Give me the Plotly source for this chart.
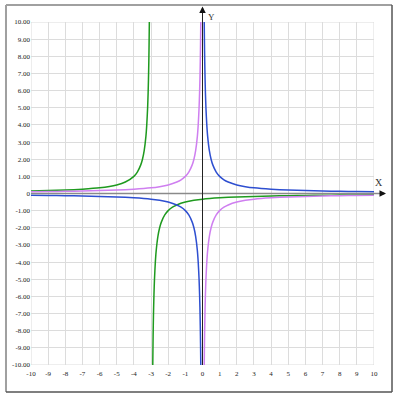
import plotly.graph_objects as go

# Blue curve branches (y = 1/x shape)
blue_x = [-10, -9, -8, -7, -6, -5, -4, -3, -2.5, -2, -1.5, -1.25, -1, -0.8, -0.6, -0.5,
          -0.4, -0.3, -0.25, -0.2, -0.17, -0.15, -0.13, -0.12, -0.11, -0.1, None,
          0.1, 0.11, 0.12, 0.13, 0.15, 0.17, 0.2, 0.25, 0.3, 0.4, 0.5, 0.6, 0.8, 1,
          1.25, 1.5, 2, 2.5, 3, 4, 5, 6, 7, 8, 9, 10]
blue_y = [-0.1, -0.11, -0.125, -0.14, -0.17, -0.2, -0.25, -0.33, -0.4, -0.5, -0.67, -0.8, -1,
          -1.25, -1.67, -2, -2.5, -3.33, -4, -5, -5.88, -6.67, -7.69, -8.33, -9.09, -10, None,
          10, 9.09, 8.33, 7.69, 6.67, 5.88, 5, 4, 3.33, 2.5, 2, 1.67, 1.25, 1,
          0.8, 0.67, 0.5, 0.4, 0.33, 0.25, 0.2, 0.17, 0.14, 0.125, 0.11, 0.1]

# Violet curve branches (y = -1/x shape)
violet_x = [-10, -9, -8, -7, -6, -5, -4, -3, -2.5, -2, -1.5, -1.25, -1, -0.8, -0.6, -0.5,
            -0.4, -0.3, -0.25, -0.2, -0.17, -0.15, -0.13, -0.12, -0.11, -0.1, None,
            0.1, 0.11, 0.12, 0.13, 0.15, 0.17, 0.2, 0.25, 0.3, 0.4, 0.5, 0.6, 0.8, 1,
            1.25, 1.5, 2, 2.5, 3, 4, 5, 6, 7, 8, 9, 10]
violet_y = [0.1, 0.11, 0.125, 0.14, 0.17, 0.2, 0.25, 0.33, 0.4, 0.5, 0.67, 0.8, 1,
            1.25, 1.67, 2, 2.5, 3.33, 4, 5, 5.88, 6.67, 7.69, 8.33, 9.09, 10, None,
            -10, -9.09, -8.33, -7.69, -6.67, -5.88, -5, -4, -3.33, -2.5, -2, -1.67, -1.25, -1,
            -0.8, -0.67, -0.5, -0.4, -0.33, -0.25, -0.2, -0.17, -0.14, -0.125, -0.11, -0.1]

# Green curve branches (asymptote near x = -3)
green_x = [-10, -9, -8, -7, -6, -5, -4.5, -4, -3.8, -3.6, -3.5, -3.4, -3.3, -3.25, -3.2,
           -3.17, -3.15, -3.13, -3.12, -3.11, -3.1, None,
           -2.9, -2.89, -2.88, -2.87, -2.85, -2.83, -2.8, -2.75, -2.7, -2.6, -2.5, -2.4,
           -2.2, -2, -1.75, -1.5, -1, -0.5, 0, 1, 2, 3, 4, 5, 6, 7, 8, 9, 10]
green_y = [0.14, 0.17, 0.2, 0.25, 0.33, 0.5, 0.67, 1, 1.25, 1.67, 2, 2.5, 3.33, 4, 5,
           5.88, 6.67, 7.69, 8.33, 9.09, 10, None,
           -10, -9.09, -8.33, -7.69, -6.67, -5.88, -5, -4, -3.33, -2.5, -2, -1.67,
           -1.25, -1, -0.8, -0.67, -0.5, -0.4, -0.33, -0.25, -0.2, -0.17, -0.14, -0.125,
           -0.11, -0.1, -0.09, -0.083, -0.077]

x_ticks = list(range(-10, 11))
y_ticks = list(range(-10, 11))
y_tick_text = ["-10.00", "-9.00", "-8.00", "-7.00", "-6.00", "-5.00", "-4.00", "-3.00",
               "-2.00", "-1.00", "0", "1.00", "2.00", "3.00", "4.00", "5.00", "6.00",
               "7.00", "8.00", "9.00", "10.00"]

fig = go.Figure()
for xs, ys, col in [(green_x, green_y, "#1f9a1f"),
                    (violet_x, violet_y, "#cf7ff0"),
                    (blue_x, blue_y, "#2e4fd0")]:
    fig.add_trace(go.Scatter(x=xs, y=ys, mode="lines", connectgaps=False,
                             line=dict(color=col, width=1.5, shape="spline", smoothing=0.6),
                             hoverinfo="skip", showlegend=False, cliponaxis=True))

tick_font = dict(family="Liberation Serif", size=7, color="#222")
fig.update_xaxes(range=[-10, 10], tickvals=x_ticks, ticktext=[str(v) for v in x_ticks],
                 showgrid=True, gridcolor="#dcdcdc", gridwidth=1, zeroline=False,
                 showline=False, ticks="", tickfont=tick_font, fixedrange=True,
                 ticklabelstandoff=3)
fig.update_yaxes(range=[-10, 10], tickvals=y_ticks, ticktext=y_tick_text,
                 showgrid=True, gridcolor="#dcdcdc", gridwidth=1, zeroline=False,
                 showline=False, ticks="", tickfont=tick_font, fixedrange=True)

# grid border lines at edges
fig.add_shape(type="rect", xref="x", yref="y", x0=-10, x1=10, y0=-10, y1=10,
              line=dict(color="#dcdcdc", width=1), layer="below")

# x axis (grey) and arrow
fig.add_shape(type="line", xref="paper", yref="y", x0=0, x1=1.02, y0=0, y1=0,
              line=dict(color="#8a8a8a", width=1.5))
fig.add_annotation(x=1.035, y=0, xref="paper", yref="y", ax=-7, ay=0,
                   showarrow=True, arrowhead=2, arrowsize=1, arrowwidth=1.3,
                   arrowcolor="#111", text="")
# y axis (black) and arrow
fig.add_shape(type="line", xref="x", yref="paper", x0=0, x1=0, y0=0, y1=1.03,
              line=dict(color="#222", width=1))
fig.add_annotation(x=0, y=1.045, xref="x", yref="paper", ax=0, ay=7,
                   showarrow=True, arrowhead=2, arrowsize=1, arrowwidth=1.3,
                   arrowcolor="#111", text="")

fig.add_annotation(x=1.033, y=0.533, xref="paper", yref="paper", text="X", showarrow=False,
                   font=dict(family="Liberation Serif", size=10, color="#333"))
fig.add_annotation(x=0.525, y=1.035, xref="paper", yref="paper", text="Y", showarrow=False,
                   font=dict(family="Liberation Serif", size=9, color="#333"))

# outer frame
fig.add_shape(type="line", xref="paper", yref="paper", x0=-0.0729, x1=-0.0729,
              y0=-0.0787, y1=1.0496, line=dict(color="#a0a0a0", width=2))
fig.add_shape(type="line", xref="paper", yref="paper", x0=-0.0729, x1=1.0525,
              y0=1.0496, y1=1.0496, line=dict(color="#a0a0a0", width=2))
fig.add_shape(type="line", xref="paper", yref="paper", x0=1.0525, x1=1.0525,
              y0=-0.0787, y1=1.0496, line=dict(color="#555", width=1.5))
fig.add_shape(type="line", xref="paper", yref="paper", x0=-0.0729, x1=1.0525,
              y0=-0.0787, y1=-0.0787, line=dict(color="#555", width=1.5))

fig.update_layout(width=398, height=400, margin=dict(l=31, r=24, t=22, b=35),
                  paper_bgcolor="white", plot_bgcolor="white", showlegend=False)

fig.write_html("out.html", config={"displayModeBar": False},
               post_script="document.body.style.margin='0';document.body.style.padding='0';")
